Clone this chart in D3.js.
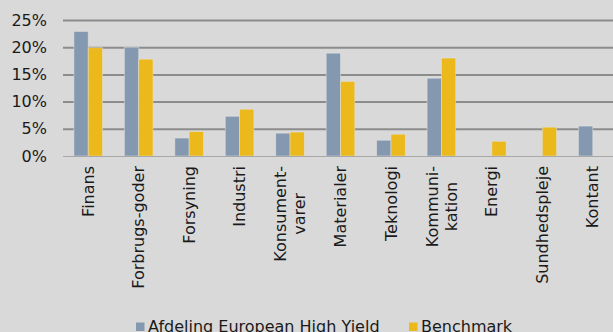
<!DOCTYPE html>
<html>
<head>
<meta charset="utf-8">
<script src="https://cdn.jsdelivr.net/npm/d3@7"></script>
<style>
  html, body { margin: 0; padding: 0; background: #d9d9d9; overflow: hidden; }
  svg { display: block; font-family: "DejaVu Sans", Verdana, sans-serif; }
</style>
</head>
<body>
<div id="drawing"></div>
<script>
const width = 613;
const height = 332;

// data
const categories = [
  ["Finans"], ["Forbrugs-goder"], ["Forsyning"], ["Industri"],
  ["Konsument-", "varer"], ["Materialer"], ["Teknologi"],
  ["Kommuni-", "kation"], ["Energi"], ["Sundhedspleje"], ["Kontant"]
];
const seriesNames = ["Afdeling European High Yield", "Benchmark"];
const fundValues = [22.9, 20.0, 3.3, 7.3, 4.2, 18.9, 2.9, 14.3, 0, 0, 5.5];
const benchValues = [19.9, 17.8, 4.5, 8.6, 4.4, 13.7, 4.0, 18.0, 2.7, 5.3, 0];
const yTicks = [0, 5, 10, 15, 20, 25];
const colors = ["#8499b0", "#ebb91c"];

const drawing = d3.select("#drawing").append("svg")
  .attr("width", width)
  .attr("height", height);

drawing.append("rect")
  .attr("width", width).attr("height", height)
  .attr("fill", "#d9d9d9");

const keys = categories.map((c) => c.join(" "));
const rows = keys.map((k, i) => ({key: k, lines: categories[i], values: [fundValues[i], benchValues[i]]}));

const xScale = d3.scaleBand().domain(keys).range([63, 618]).paddingInner(0.433).paddingOuter(0.2165);
const x1 = d3.scaleBand().domain([0, 1]).range([0, xScale.bandwidth()]);
const yScale = d3.scaleLinear().domain([0, 25]).range([156, 20]);

// gridlines
const grid = drawing.append("g")
  .attr("transform", "translate(63,0)")
  .call(d3.axisLeft(yScale).tickValues(yTicks.filter((t) => t > 0)).tickSize(-(width - 63)).tickFormat(""));
grid.select(".domain").remove();
grid.selectAll(".tick line").attr("stroke", "#8c8c8c").attr("stroke-width", 2);

// y labels
const yAxis = drawing.append("g")
  .attr("transform", "translate(47,0)")
  .call(d3.axisLeft(yScale).tickValues(yTicks).tickSize(0).tickPadding(0).tickFormat((d) => d + "%"));
yAxis.select(".domain").remove();
yAxis.selectAll("text")
  .attr("font-family", "DejaVu Sans, Verdana, sans-serif")
  .attr("font-size", 16)
  .attr("fill", "#1a1a1a");

// bars
const groups = drawing.selectAll(".cat")
  .data(rows)
  .enter()
  .append("g")
    .attr("class", "cat")
    .attr("transform", (d) => `translate(${xScale(d.key)},0)`);

groups.selectAll("rect")
  .data((d) => d.values.map((v, i) => ({v: v, i: i})))
  .enter()
  .append("rect")
    .attr("x", (d) => x1(d.i))
    .attr("y", (d) => yScale(d.v))
    .attr("width", x1.bandwidth())
    .attr("height", (d) => yScale(0) - yScale(d.v))
    .attr("fill", (d) => colors[d.i])
    .attr("stroke", "#e4e4e4")
    .attr("stroke-opacity", (d) => d.v > 0 ? 0.6 : 0)
    .attr("stroke-width", 0.8);

// baseline
drawing.append("line")
  .attr("x1", 63).attr("x2", width)
  .attr("y1", yScale(0) + 0.5).attr("y2", yScale(0) + 0.5)
  .attr("stroke", "#a8a8a8").attr("stroke-width", 1);

// category labels, rotated
const labels = drawing.selectAll(".lab")
  .data(rows)
  .enter()
  .append("g")
    .attr("class", "lab")
    .attr("transform", (d) => `translate(${xScale(d.key) + xScale.bandwidth() / 2},166) rotate(-90)`);

labels.each(function(d) {
  const g = d3.select(this);
  const n = d.lines.length;
  const txt = g.append("text")
    .attr("font-size", 16)
    .attr("fill", "#1a1a1a");
  if (n === 1) {
    txt.attr("text-anchor", "end").attr("dy", "0.35em").text(d.lines[0]);
  } else {
    const tmp = g.append("text").attr("font-size", 16);
    const widths = d.lines.map((l) => { tmp.text(l); return tmp.node().getComputedTextLength(); });
    tmp.remove();
    const w = d3.max(widths);
    d.lines.forEach((l, i) => {
      txt.append("tspan")
        .attr("x", -w / 2)
        .attr("y", (i - (n - 1) / 2) * 19)
        .attr("dy", "0.35em")
        .attr("text-anchor", "middle")
        .text(l);
    });
  }
});

// legend
const legendX = [136, 409];
const legend = drawing.selectAll(".leg")
  .data(seriesNames)
  .enter()
  .append("g")
    .attr("class", "leg")
    .attr("transform", (d, i) => `translate(${legendX[i]},0)`);
legend.append("rect")
  .attr("x", 0).attr("y", 322.5)
  .attr("width", 8.5).attr("height", 8.5)
  .attr("fill", (d, i) => colors[i]);
legend.append("text")
  .attr("x", 12).attr("y", 331.5)
  .attr("font-size", 16)
  .attr("fill", "#1a1a1a")
  .text((d) => d);
</script>
</body>
</html>
